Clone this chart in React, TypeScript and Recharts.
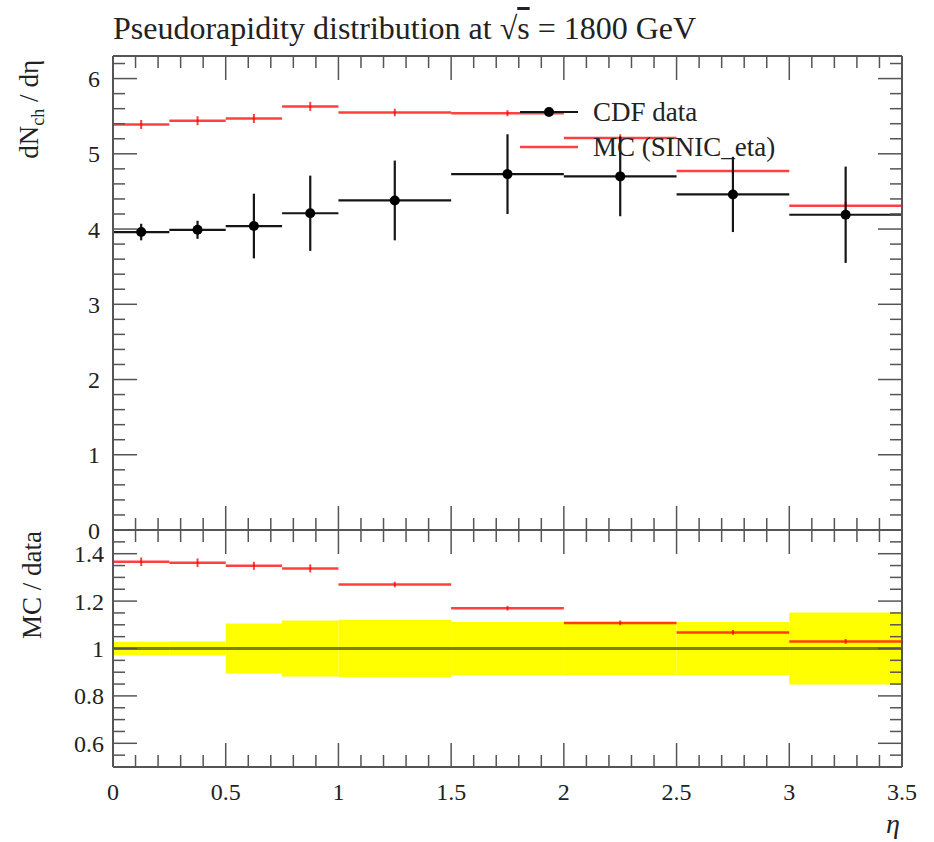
import React from "react";
import {
  ComposedChart, XAxis, YAxis, Scatter, ErrorBar,
  ReferenceArea, ReferenceLine,
} from "recharts";

// bins in eta
const binLo = [0, 0.25, 0.5, 0.75, 1.0, 1.5, 2.0, 2.5, 3.0];
const binHi = [0.25, 0.5, 0.75, 1.0, 1.5, 2.0, 2.5, 3.0, 3.5];

// CDF data, dNch/deta
const cdfVal = [3.96, 3.99, 4.04, 4.21, 4.38, 4.73, 4.70, 4.46, 4.19];
const cdfErr = [0.11, 0.12, 0.43, 0.50, 0.53, 0.53, 0.53, 0.50, 0.64];

// MC (SINIC_eta)
const mcVal = [5.39, 5.44, 5.47, 5.63, 5.55, 5.54, 5.21, 4.77, 4.31];
const mcErr = [0.06, 0.06, 0.06, 0.06, 0.05, 0.04, 0.05, 0.05, 0.05];

// ratio panel
const ratioVal = [1.366, 1.362, 1.349, 1.338, 1.27, 1.17, 1.108, 1.068, 1.03];
const ratioErr = [0.018, 0.018, 0.017, 0.017, 0.012, 0.01, 0.01, 0.01, 0.01];
const bandErr = [0.028, 0.030, 0.106, 0.118, 0.121, 0.112, 0.113, 0.112, 0.152];

// ticks
const xMajor = [0, 0.5, 1, 1.5, 2, 2.5, 3, 3.5];
const xMinor = [0.1, 0.2, 0.3, 0.4, 0.6, 0.7, 0.8, 0.9, 1.1, 1.2, 1.3, 1.4,
  1.6, 1.7, 1.8, 1.9, 2.1, 2.2, 2.3, 2.4, 2.6, 2.7, 2.8, 2.9, 3.1, 3.2, 3.3, 3.4];
const yMajorTop = [0, 1, 2, 3, 4, 5, 6];
const yMinorTop = [0.2, 0.4, 0.6, 0.8, 1.2, 1.4, 1.6, 1.8, 2.2, 2.4, 2.6, 2.8,
  3.2, 3.4, 3.6, 3.8, 4.2, 4.4, 4.6, 4.8, 5.2, 5.4, 5.6, 5.8, 6.2];
const yMajorBot = [0.6, 0.8, 1, 1.2, 1.4];
const yMinorBot = [0.55, 0.65, 0.7, 0.75, 0.85, 0.9, 0.95, 1.05, 1.1, 1.15,
  1.25, 1.3, 1.35, 1.45];

const FONT = "'Liberation Serif', 'Times New Roman', serif";
const FRAME = { stroke: "#555", strokeWidth: 2 };
const TICK = { stroke: "#555", strokeWidth: 1.5 };
const RED = "rgba(255,0,0,0.75)";
const BLACK = "#151515";

const cdfRows = binLo.map((lo, i) => ({
  x: (lo + binHi[i]) / 2, y: cdfVal[i], xe: (binHi[i] - lo) / 2, ye: cdfErr[i],
}));
const mcRows = binLo.map((lo, i) => ({
  x: (lo + binHi[i]) / 2, y: mcVal[i], xe: (binHi[i] - lo) / 2, ye: mcErr[i],
}));
const ratioRows = binLo.map((lo, i) => ({
  x: (lo + binHi[i]) / 2, y: ratioVal[i], xe: (binHi[i] - lo) / 2, ye: ratioErr[i],
}));

const NoLabel = () => <g />;

// inside ticks on all four sides, major + minor (axes need a size >0 to render)
function frameAxes(yDomain: number[], yMajor: number[], yMinor: number[]) {
  const cx = { type: "number" as const, dataKey: "x", domain: [0, 3.5], allowDataOverflow: true, interval: 0 as const, tick: NoLabel, mirror: true, height: 1 };
  const cy = { type: "number" as const, dataKey: "y", domain: yDomain, allowDataOverflow: true, interval: 0 as const, tick: NoLabel, mirror: true, width: 1 };
  return [
    <XAxis key="xb" xAxisId="b" orientation="bottom" ticks={xMajor} tickSize={24} axisLine={FRAME} tickLine={TICK} {...cx} />,
    <XAxis key="xbm" xAxisId="bm" orientation="bottom" ticks={xMinor} tickSize={11} axisLine={false} tickLine={TICK} {...cx} />,
    <XAxis key="xt" xAxisId="t" orientation="top" ticks={xMajor} tickSize={24} axisLine={FRAME} tickLine={TICK} {...cx} />,
    <XAxis key="xtm" xAxisId="tm" orientation="top" ticks={xMinor} tickSize={11} axisLine={false} tickLine={TICK} {...cx} />,
    <YAxis key="yl" yAxisId="l" orientation="left" ticks={yMajor} tickSize={24} axisLine={FRAME} tickLine={TICK} {...cy} />,
    <YAxis key="ylm" yAxisId="lm" orientation="left" ticks={yMinor} tickSize={11} axisLine={false} tickLine={TICK} {...cy} />,
    <YAxis key="yr" yAxisId="r" orientation="right" ticks={yMajor} tickSize={24} axisLine={FRAME} tickLine={TICK} {...cy} />,
    <YAxis key="yrm" yAxisId="rm" orientation="right" ticks={yMinor} tickSize={11} axisLine={false} tickLine={TICK} {...cy} />,
  ];
}

const tickFont = { fontSize: 24, fill: "#222", fontFamily: FONT };

const Dot = (p: any) => <circle cx={p.cx} cy={p.cy} r={5} fill="#000" />;
const NoDot = () => <g />;

function TopPanel() {
  return (
    <ComposedChart width={934} height={560} data={cdfRows}
      margin={{ top: 56, right: 32, bottom: 30, left: 112 }}>
      {frameAxes([0, 6.3], yMajorTop, yMinorTop)}
      <YAxis yAxisId="ylab" type="number" dataKey="y" orientation="left" domain={[0, 6.3]} ticks={yMajorTop}
        interval={0} width={1} tickSize={0} tickMargin={13} axisLine={false} tickLine={false}
        tick={tickFont} allowDataOverflow />
      <Scatter data={mcRows} xAxisId="b" yAxisId="l" shape={NoDot} isAnimationActive={false}>
        <ErrorBar dataKey="xe" direction="x" width={0} stroke={RED} strokeWidth={2.5} isAnimationActive={false} />
        <ErrorBar dataKey="ye" direction="y" width={0} stroke={RED} strokeWidth={2} isAnimationActive={false} />
      </Scatter>
      <Scatter data={cdfRows} xAxisId="b" yAxisId="l" shape={Dot} isAnimationActive={false}>
        <ErrorBar dataKey="xe" direction="x" width={0} stroke={BLACK} strokeWidth={2.2} isAnimationActive={false} />
        <ErrorBar dataKey="ye" direction="y" width={0} stroke={BLACK} strokeWidth={2.2} isAnimationActive={false} />
      </Scatter>
    </ComposedChart>
  );
}

function RatioPanel() {
  return (
    <ComposedChart width={934} height={342} data={ratioRows}
      margin={{ top: 30, right: 32, bottom: 30, left: 112 }}>
      {frameAxes([0.5, 1.5], yMajorBot, yMinorBot)}
      <YAxis yAxisId="ylab" type="number" dataKey="y" orientation="left" domain={[0.5, 1.5]} ticks={yMajorBot}
        interval={0} width={1} tickSize={0} tickMargin={9} axisLine={false} tickLine={false}
        tick={tickFont} allowDataOverflow />
      <XAxis xAxisId="xlab" type="number" dataKey="x" orientation="bottom" domain={[0, 3.5]} ticks={xMajor}
        interval={0} height={45} tickSize={0} tickMargin={16} axisLine={false} tickLine={false}
        tick={tickFont} allowDataOverflow />
      {binLo.map((lo, i) => (
        <ReferenceArea key={i} xAxisId="b" yAxisId="l" x1={lo} x2={binHi[i]}
          y1={1 - bandErr[i]} y2={1 + bandErr[i]} fill="#ffff00" fillOpacity={1} stroke="none" />
      ))}
      <ReferenceLine xAxisId="b" yAxisId="l" y={1} stroke="rgba(0,0,0,0.5)" strokeWidth={3} />
      <Scatter data={ratioRows} xAxisId="b" yAxisId="l" shape={NoDot} isAnimationActive={false}>
        <ErrorBar dataKey="xe" direction="x" width={0} stroke={RED} strokeWidth={2.5} isAnimationActive={false} />
        <ErrorBar dataKey="ye" direction="y" width={0} stroke={RED} strokeWidth={2} isAnimationActive={false} />
      </Scatter>
    </ComposedChart>
  );
}

export default function App() {
  return (
    <div style={{ position: "absolute", left: 0, top: 0, width: 934, height: 842, background: "#fff" }}>
      <div style={{ position: "absolute", left: 0, top: 0 }}>
        <TopPanel />
      </div>
      <div style={{ position: "absolute", left: 0, top: 500 }}>
        <RatioPanel />
      </div>
      <div style={{
        position: "absolute", left: 113, top: 13, fontFamily: FONT, fontSize: 32,
        lineHeight: "31px", color: "#222", whiteSpace: "nowrap",
      }}>
        Pseudorapidity distribution at √<span style={{ textDecoration: "overline" }}>s</span> = 1800 GeV
      </div>
      <svg width={934} height={842} style={{ position: "absolute", left: 0, top: 0, pointerEvents: "none" }}>
        <g fontFamily={FONT} fill="#222">
          <text x={38} y={60} fontSize={27} textAnchor="end" transform="rotate(-90 38 60)">
            dN<tspan dy={6} fontSize={18}>ch</tspan><tspan dy={-6}> / dη</tspan>
          </text>
          <text x={41} y={531} fontSize={27} textAnchor="end" transform="rotate(-90 41 531)">
            MC / data
          </text>
          <text x={900} y={833} fontSize={28} fontStyle="italic" textAnchor="end">η</text>
          {/* legend */}
          <line x1={520} y1={112} x2={578} y2={112} stroke={BLACK} strokeWidth={2.2} />
          <circle cx={549} cy={112} r={5} fill="#000" />
          <text x={593} y={121} fontSize={27}>CDF data</text>
          <line x1={520} y1={147} x2={578} y2={147} stroke={RED} strokeWidth={2.5} />
          <text x={593} y={156} fontSize={27}>MC (SINIC_eta)</text>
        </g>
      </svg>
    </div>
  );
}
